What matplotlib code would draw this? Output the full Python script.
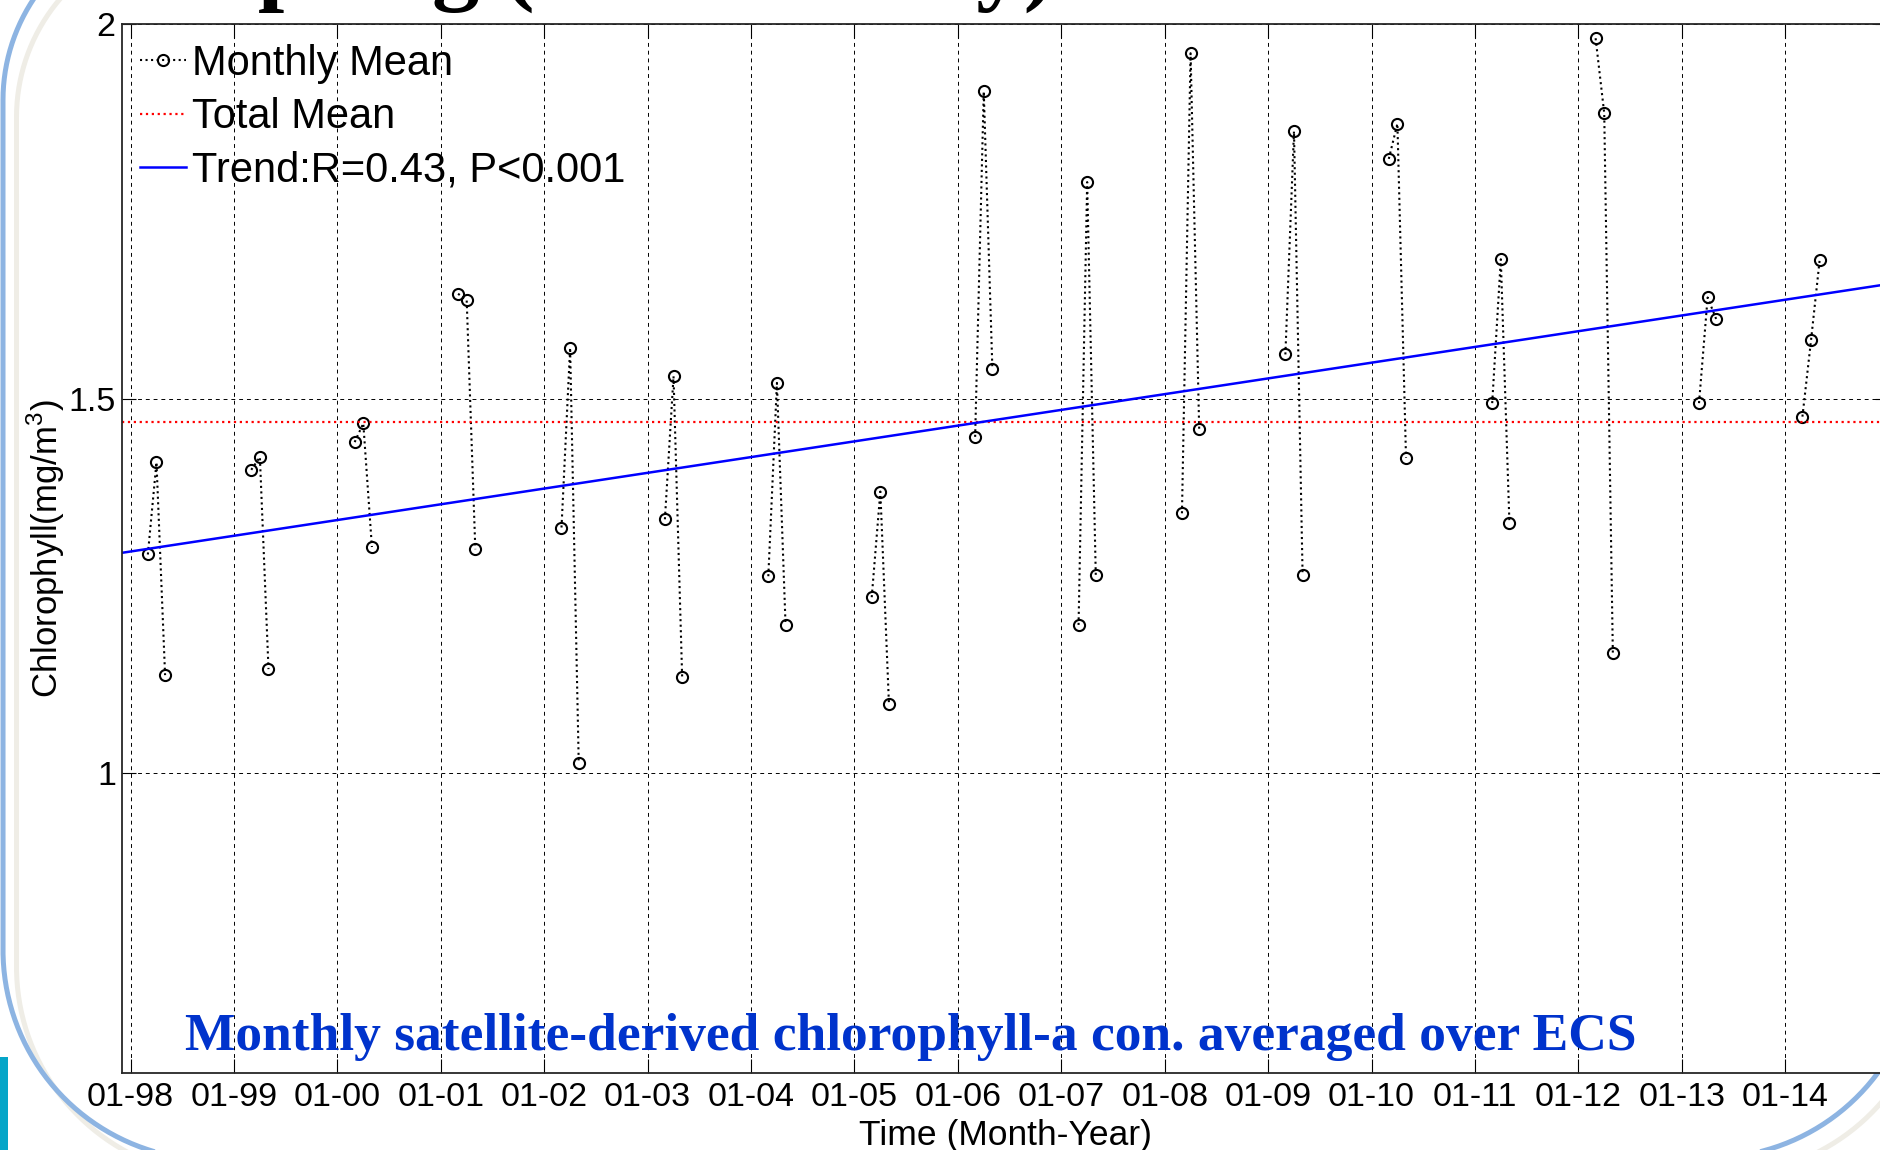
import numpy as np
import matplotlib
matplotlib.use('Agg')
import matplotlib.pyplot as plt
from matplotlib.lines import Line2D
from matplotlib.patches import Rectangle

plt.rcParams['font.family'] = ['Liberation Sans', 'DejaVu Sans']

# spring (Mar, Apr, May) monthly means, mg/m^3
years = np.arange(1998, 2015)
march = [1.292, 1.405, 1.442, 1.640, 1.328, 1.339, 1.263, 1.235, 1.449, 1.198, 1.347,
         1.559, 1.820, 1.494, 1.981, 1.494, 1.476]
april = [1.415, 1.422, 1.467, 1.631, 1.568, 1.530, 1.521, 1.376, 1.910, 1.789, 1.961,
         1.857, 1.867, 1.686, 1.881, 1.635, 1.578]
may = [1.131, 1.139, 1.302, 1.299, 1.014, 1.129, 1.198, 1.092, 1.540, 1.264, 1.459,
       1.264, 1.421, 1.334, 1.161, 1.606, 1.685]
month_offset = [2, 3, 4]          # Mar, Apr, May counted from January

trend_intercept = 1.296           # value at 01-1998
trend_slope = 0.00175             # per month
trend_label = 'Trend:R=0.43, P<0.001'

tick_labels = ['01-%02d' % (y % 100) for y in years]
x_lim = (-1, 204)

W, H = 1880, 1150
fig = plt.figure(figsize=(W / 100, H / 100), dpi=100)

def fx(px):
    return np.asarray(px) / W

def fy(py):
    return 1 - np.asarray(py) / H

# slide frame bits (pixels, y down)
def arc(cx, cy, r, a0, a1, n=80):
    t = np.radians(np.linspace(a0, a1, n))
    return cx + r * np.cos(t), cy + r * np.sin(t)

x1, y1 = arc(185, 100, 182, 270, 180)
x2, y2 = arc(213, 950, 210, 180, 90)
x3, y3 = arc(1709, 948, 210, 90, 0)
frame_x = np.concatenate([x1, x2, x3, [1919]])
frame_y = np.concatenate([y1, y2, y3, [0]])
fig.add_artist(Line2D(fx(frame_x + 13.5), fy(frame_y + 17), transform=fig.transFigure,
                      color='#EFEDE6', lw=3.6, zorder=-2))
fig.add_artist(Line2D(fx(frame_x), fy(frame_y), transform=fig.transFigure,
                      color='#8DB4E2', lw=3.6, zorder=-1))
fig.add_artist(Rectangle((0, fy(1150)), 8 / W, 93 / H, transform=fig.transFigure,
                         color='#05A5C8', lw=0, zorder=-1))

ax = fig.add_axes([fx(122), fy(1073), (1888.6 - 122) / W, (1073 - 24) / H])

xs, ys = [], []
for i, yr in enumerate(years):
    base = (yr - 1998) * 12
    for off, v in zip(month_offset, [march[i], april[i], may[i]]):
        xs.append(base + off)
        ys.append(v)
    xs.append(np.nan)
    ys.append(np.nan)

total_mean = np.mean(march + april + may)

ax.plot(xs, ys, ls=':', color='k', lw=1.5, marker='o', ms=8, mfc='none',
        mec='k', mew=1.5, label='Monthly Mean')
ax.plot(x_lim, [total_mean, total_mean], ls=':', color='red', lw=1.6, label='Total Mean')
tx = np.array(x_lim)
ax.plot(tx, trend_intercept + trend_slope * tx, color='blue', lw=1.8, label=trend_label)

ax.set_xlim(*x_lim)
ax.set_ylim(0.6, 2)
ax.set_xticks(np.arange(len(years)) * 12)
ax.set_xticklabels(tick_labels)
ax.set_yticks([1, 1.5, 2])
ax.set_yticklabels(['1', '1.5', '2'])
ax.grid(True, color='k', ls=(0, (4, 4)), lw=0.7)
ax.tick_params(direction='in', length=10, width=0.8, top=True, right=True,
               labelsize=24.5, colors='k')
ax.tick_params(axis='x', pad=6.5)
ax.tick_params(axis='y', pad=4.5)
for s in ax.spines.values():
    s.set_linewidth(1.3)
    s.set_color('#262626')

ax.set_xlabel('Time (Month-Year)', fontsize=25.5, labelpad=4)
ax.set_ylabel('Chlorophyll(mg/m$^\\mathregular{3}$)', fontsize=25)
ax.yaxis.set_label_coords(-0.031, 0.5)

ax.legend(loc='upper left', bbox_to_anchor=(fx(140), fy(44)), bbox_transform=fig.transFigure,
          frameon=False, fontsize=30, handlelength=1.1, handletextpad=0.15,
          labelspacing=0.32, borderpad=0, borderaxespad=0, numpoints=1)

fig.text(fx(911), fy(1050), 'Monthly satellite-derived chlorophyll-a con. averaged over ECS',
         ha='center', va='baseline', family='Liberation Serif', weight='bold',
         fontsize=38.5, color='#0033CC')
fig.text(fx(205), fy(-7), 'Spring (March-May)', ha='left', va='baseline',
         family='Liberation Serif', weight='bold', fontsize=68.4, color='k')

fig.savefig('out.png', dpi=100)
